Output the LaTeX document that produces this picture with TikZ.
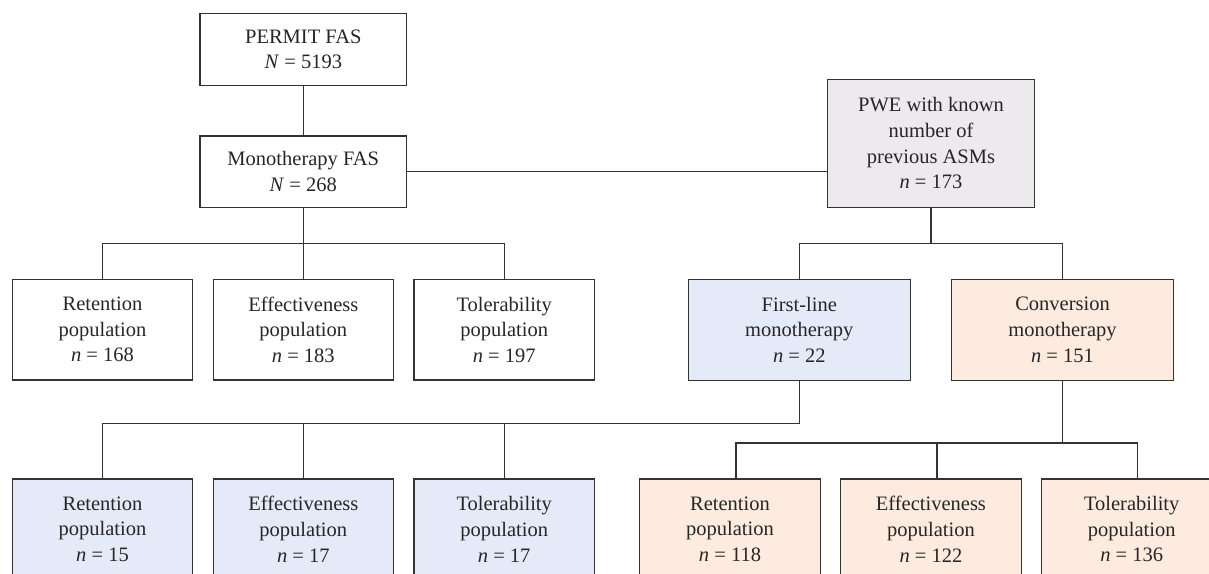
\documentclass[tikz,border=0pt]{standalone}
\usepackage{fontspec}
\setmainfont{Liberation Serif}
\definecolor{linec}{HTML}{333333}
\definecolor{bluef}{HTML}{E4EAF7}
\definecolor{orangef}{HTML}{FDEBE0}
\definecolor{grayf}{HTML}{ECEAEC}
\tikzset{
  box/.style={draw=linec, line width=1.2pt, inner sep=0pt, align=center,
    font=\fontsize{20.5}{25.6}\selectfont, text=black!85},
  popbox/.style={box, minimum width=180.4pt, minimum height=100.7pt},
  midbox/.style={box, minimum width=222pt, minimum height=101pt},
  topbox/.style={box, minimum width=206.7pt, minimum height=72pt},
  conn/.style={draw=linec, line width=1.2pt}
}
\begin{document}
\begin{tikzpicture}[x=1pt,y=-1pt]
\useasboundingbox (0,0) rectangle (1209,573);
\clip (0,0) rectangle (1209,573);
% top
\node[topbox] (permit) at (303.3,49.5) {PERMIT FAS\\\textit{N} = 5193};
\node[topbox, minimum height=71.3pt] (mono) at (303.3,171.7) {Monotherapy FAS\\\textit{N} = 268};
\node[box, fill=grayf, minimum width=206.3pt, minimum height=128pt] (pwe) at (931,143.3)
  {PWE with known\\number of\\previous ASMs\\\textit{n} = 173};
% middle row
\node[popbox] (ret1) at (102.5,329.7) {Retention\\population\\\textit{n} = 168};
\node[popbox] (eff1) at (303.3,329.7) {Effectiveness\\population\\\textit{n} = 183};
\node[popbox] (tol1) at (504.2,329.7) {Tolerability\\population\\\textit{n} = 197};
\node[midbox, fill=bluef] (first) at (799.3,329.8) {First-line\\monotherapy\\\textit{n} = 22};
\node[midbox, fill=orangef, minimum width=221.6pt] (conv) at (1062.5,329.8) {Conversion\\monotherapy\\\textit{n} = 151};
% bottom row
\node[popbox, fill=bluef] (ret2) at (102.5,529.3) {Retention\\population\\\textit{n} = 15};
\node[popbox, fill=bluef] (eff2) at (303.3,529.3) {Effectiveness\\population\\\textit{n} = 17};
\node[popbox, fill=bluef] (tol2) at (504.2,529.3) {Tolerability\\population\\\textit{n} = 17};
\node[popbox, fill=orangef] (ret3) at (730,529.3) {Retention\\population\\\textit{n} = 118};
\node[popbox, fill=orangef] (eff3) at (930.9,529.3) {Effectiveness\\population\\\textit{n} = 122};
\node[popbox, fill=orangef] (tol3) at (1131.7,529.3) {Tolerability\\population\\\textit{n} = 136};
% junctions
\coordinate (j1) at (303.3,243.3);
\coordinate (j2) at (931,243.3);
\coordinate (j3) at (799.3,423.7);
\coordinate (j4) at (1062.5,443);
% connectors
\draw[conn] (permit.south) -- (mono.north);
\draw[conn] (mono.east) -- (mono.east -| pwe.west);
\draw[conn] (mono.south) -- (eff1.north);
\draw[conn] (ret1.north) |- (j1) -| (tol1.north);
\draw[conn] (pwe.south) -- (j2);
\draw[conn] (first.north) |- (j2) -| (conv.north);
\draw[conn] (first.south) -- (j3) -| (ret2.north);
\draw[conn] (eff2.north) -- (eff2.north |- j3);
\draw[conn] (tol2.north) -- (tol2.north |- j3);
\draw[conn] (conv.south) -- (j4);
\draw[conn] ([xshift=6pt]ret3.north) |- (j4) -| ([xshift=6pt]tol3.north);
\draw[conn] ([xshift=6pt]eff3.north) -- ([xshift=6pt]eff3.north |- j4);
\end{tikzpicture}
\end{document}
